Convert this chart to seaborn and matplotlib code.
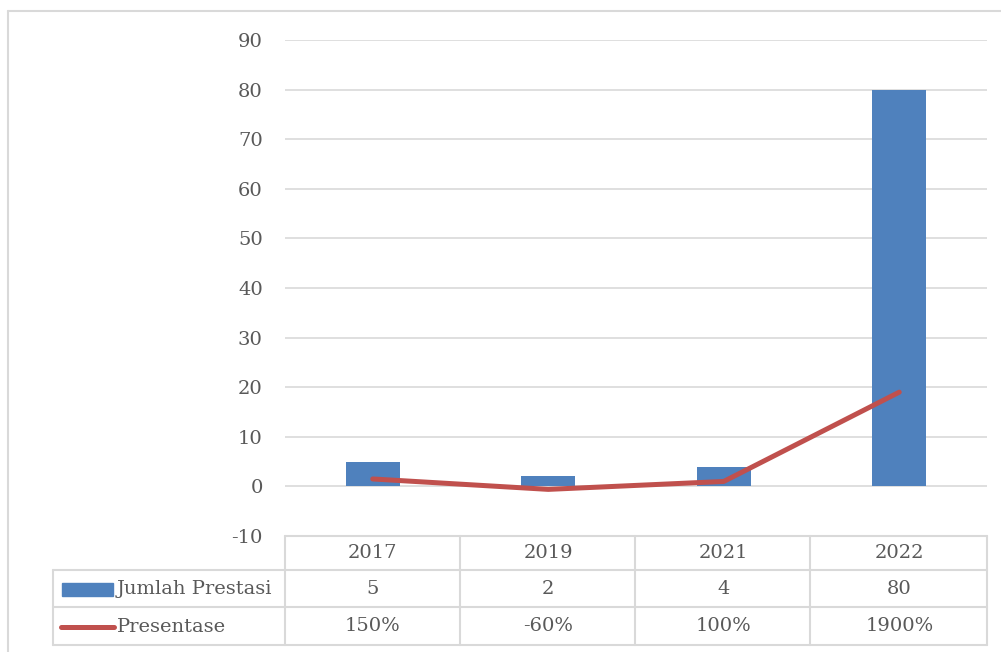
import numpy as np
import matplotlib.pyplot as plt
import matplotlib.transforms as mtransforms
from matplotlib.lines import Line2D
from matplotlib.patches import Rectangle
import seaborn as sns

years = ["2017", "2019", "2021", "2022"]
jumlah = [5, 2, 4, 80]
presentase = [150, -60, 100, 1900]   # in percent
pct_labels = ["150%", "-60%", "100%", "1900%"]
y_ticks = list(range(-10, 100, 10))

BAR_COLOR = "#4F81BD"
LINE_COLOR = "#C0504D"
GRID_COLOR = "#D9D9D9"
TEXT_COLOR = "#595959"
FONT = ["DejaVu Serif"]
FS = 14

sns.set_style("white")
plt.rcParams["font.family"] = FONT

fig = plt.figure(figsize=(10.01, 6.52), dpi=100)
ax = fig.add_axes([285 / 1001, 1 - 536 / 652, 702 / 1001, 496 / 652])

sns.barplot(x=years, y=jumlah, color=BAR_COLOR, width=0.31, saturation=1, ax=ax,
            zorder=3, linewidth=0)
sns.lineplot(x=np.arange(len(years)), y=np.array(presentase) / 100, color=LINE_COLOR,
             linewidth=3.6, ax=ax, zorder=4, solid_capstyle="round", solid_joinstyle="round")

ax.set_xlim(-0.5, len(years) - 0.5)
ax.set_ylim(-10, 90)
ax.set_yticks(y_ticks)
ax.set_yticklabels([str(t) for t in y_ticks], fontsize=FS, color=TEXT_COLOR)
ax.tick_params(axis="y", length=0, pad=16)
ax.set_xticks([])
ax.set_xlabel("")
ax.set_ylabel("")
for s in ax.spines.values():
    s.set_visible(False)
ax.yaxis.grid(True, color=GRID_COLOR, linewidth=1.2, zorder=0)
ax.set_axisbelow(True)

# ── data table below the plot ────────────────────────────────────────────────
px = lambda x: x / 1001
py = lambda y: 1 - y / 652
row_tops = [536, 570, 607, 645]
col_edges = [285, 460, 635, 810, 987]
lk = dict(color=GRID_COLOR, linewidth=1.5, transform=fig.transFigure)

fig.add_artist(Line2D([px(285), px(987)], [py(536)] * 2, **lk))
for y in row_tops[1:]:
    fig.add_artist(Line2D([px(53), px(987)], [py(y)] * 2, **lk))
for x in col_edges:
    fig.add_artist(Line2D([px(x)] * 2, [py(536), py(645)], **lk))
fig.add_artist(Line2D([px(53)] * 2, [py(570), py(645)], **lk))

trans = mtransforms.blended_transform_factory(ax.transData, fig.transFigure)
rows = [years, [str(v) for v in jumlah], pct_labels]
for r, vals in enumerate(rows):
    yc = py((row_tops[r] + row_tops[r + 1]) / 2)
    for i, v in enumerate(vals):
        ax.text(i, yc, v, transform=trans, ha="center", va="center",
                fontsize=FS, color=TEXT_COLOR, clip_on=False)

# legend keys
fig.add_artist(Rectangle((px(62), py(596)), px(113) - px(62), py(583) - py(596),
                         color=BAR_COLOR, transform=fig.transFigure))
fig.add_artist(Line2D([px(61), px(114)], [py(627)] * 2, color=LINE_COLOR, linewidth=3.6,
                      solid_capstyle="round", transform=fig.transFigure))
fig.text(px(117), py(589), "Jumlah Prestasi", ha="left", va="center", fontsize=FS, color=TEXT_COLOR)
fig.text(px(117), py(627), "Presentase", ha="left", va="center", fontsize=FS, color=TEXT_COLOR)

# chart area border
fig.add_artist(Line2D([px(8), px(1001)], [py(11)] * 2, **lk))
fig.add_artist(Line2D([px(8)] * 2, [py(11), 0], **lk))

fig.savefig("out.png", dpi=100)
